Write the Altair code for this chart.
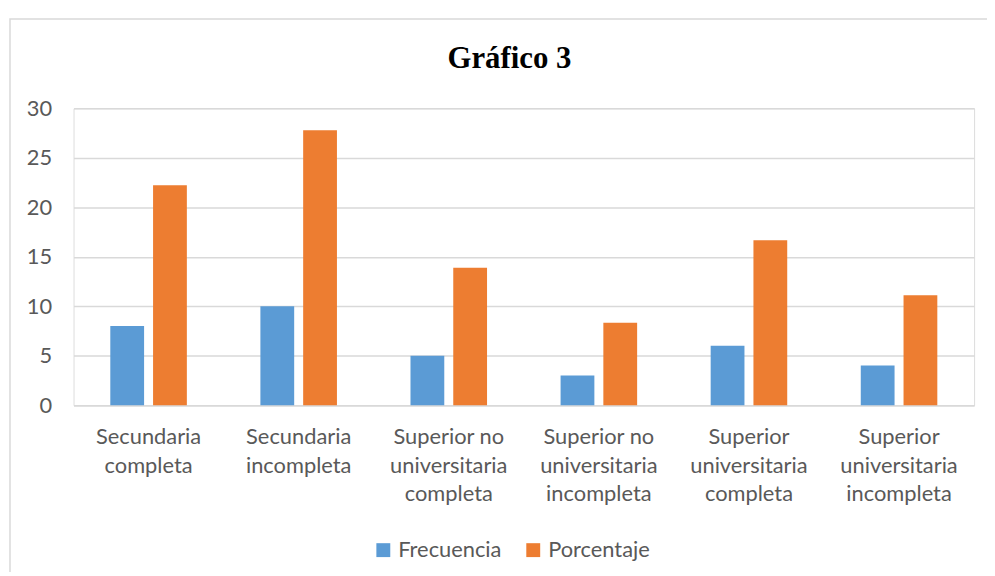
import altair as alt
import pandas as pd

categories = [
    "Secundaria\ncompleta",
    "Secundaria\nincompleta",
    "Superior no\nuniversitaria\ncompleta",
    "Superior no\nuniversitaria\nincompleta",
    "Superior\nuniversitaria\ncompleta",
    "Superior\nuniversitaria\nincompleta",
]
frecuencia = [8, 10, 5, 3, 6, 4]
porcentaje = [22.22, 27.78, 13.89, 8.33, 16.67, 11.11]
series = ["Frecuencia", "Porcentaje"]
y_ticks = [0, 5, 10, 15, 20, 25, 30]
title_text = "Gráfico 3"

rows = []
for c, f, p in zip(categories, frecuencia, porcentaje):
    rows.append({"cat": c, "serie": series[0], "valor": f})
    rows.append({"cat": c, "serie": series[1], "valor": p})
df = pd.DataFrame(rows)

W, H = 907, 299
TXT = "#595959"
GRID = "#D9D9D9"
FONT = "Lato"

bars = alt.Chart(df).mark_bar().encode(
    x=alt.X(
        "cat:N",
        sort=categories,
        scale=alt.Scale(paddingInner=0.49, paddingOuter=0.245),
        axis=alt.Axis(
            title=None,
            labelAngle=0,
            labelExpr="split(datum.label, '\\n')",
            labelLineHeight=28.5,
            labelFontSize=22,
            labelFont=FONT,
            labelColor=TXT,
            labelPadding=22,
            labelBaseline="top",
            ticks=False,
            tickSize=0,
            domainColor=GRID,
            domainWidth=1.5,
            grid=False,
        ),
    ),
    xOffset=alt.XOffset(
        "serie:N",
        sort=series,
        scale=alt.Scale(paddingInner=0.21, paddingOuter=0),
    ),
    y=alt.Y(
        "valor:Q",
        scale=alt.Scale(domain=[0, 30], nice=False),
        axis=alt.Axis(
            title=None,
            values=y_ticks,
            labelFontSize=22,
            labelFont=FONT,
            labelColor=TXT,
            labelPadding=22,
            ticks=False,
            tickSize=0,
            domain=False,
            gridColor=GRID,
            gridWidth=1.5,
        ),
    ),
    color=alt.Color(
        "serie:N",
        sort=series,
        scale=alt.Scale(domain=series, range=["#5B9BD5", "#ED7D31"]),
        legend=alt.Legend(
            title=None,
            orient="none",
            direction="horizontal",
            legendX=301,
            legendY=434,
            symbolType="square",
            symbolSize=196,
            symbolStrokeWidth=0,
            labelFontSize=22,
            labelFont=FONT,
            labelColor=TXT,
            labelOffset=4,
            columnPadding=20,
        ),
    ),
)

border = alt.Chart(pd.DataFrame({"k": [0]})).mark_rect(
    fill=None, stroke=GRID, strokeWidth=1.5
).encode(
    x=alt.value(-64), x2=alt.value(960), y=alt.value(-90), y2=alt.value(520)
)

title = alt.Chart(pd.DataFrame({"t": [title_text]})).mark_text(
    font="Liberation Serif",
    fontSize=31,
    fontWeight="bold",
    color="black",
    align="center",
    baseline="alphabetic",
).encode(
    text="t:N", x=alt.value(439), y=alt.value(-41)
)

chart = alt.layer(border, bars, title).properties(
    width=W,
    height=H,
    padding={"left": 66, "top": 99, "right": 13, "bottom": 166},
    autosize=alt.AutoSizeParams(type="none"),
).configure_view(stroke=None).configure(background="white")

chart.save("out.html", embed_options={"renderer": "svg", "actions": False})
